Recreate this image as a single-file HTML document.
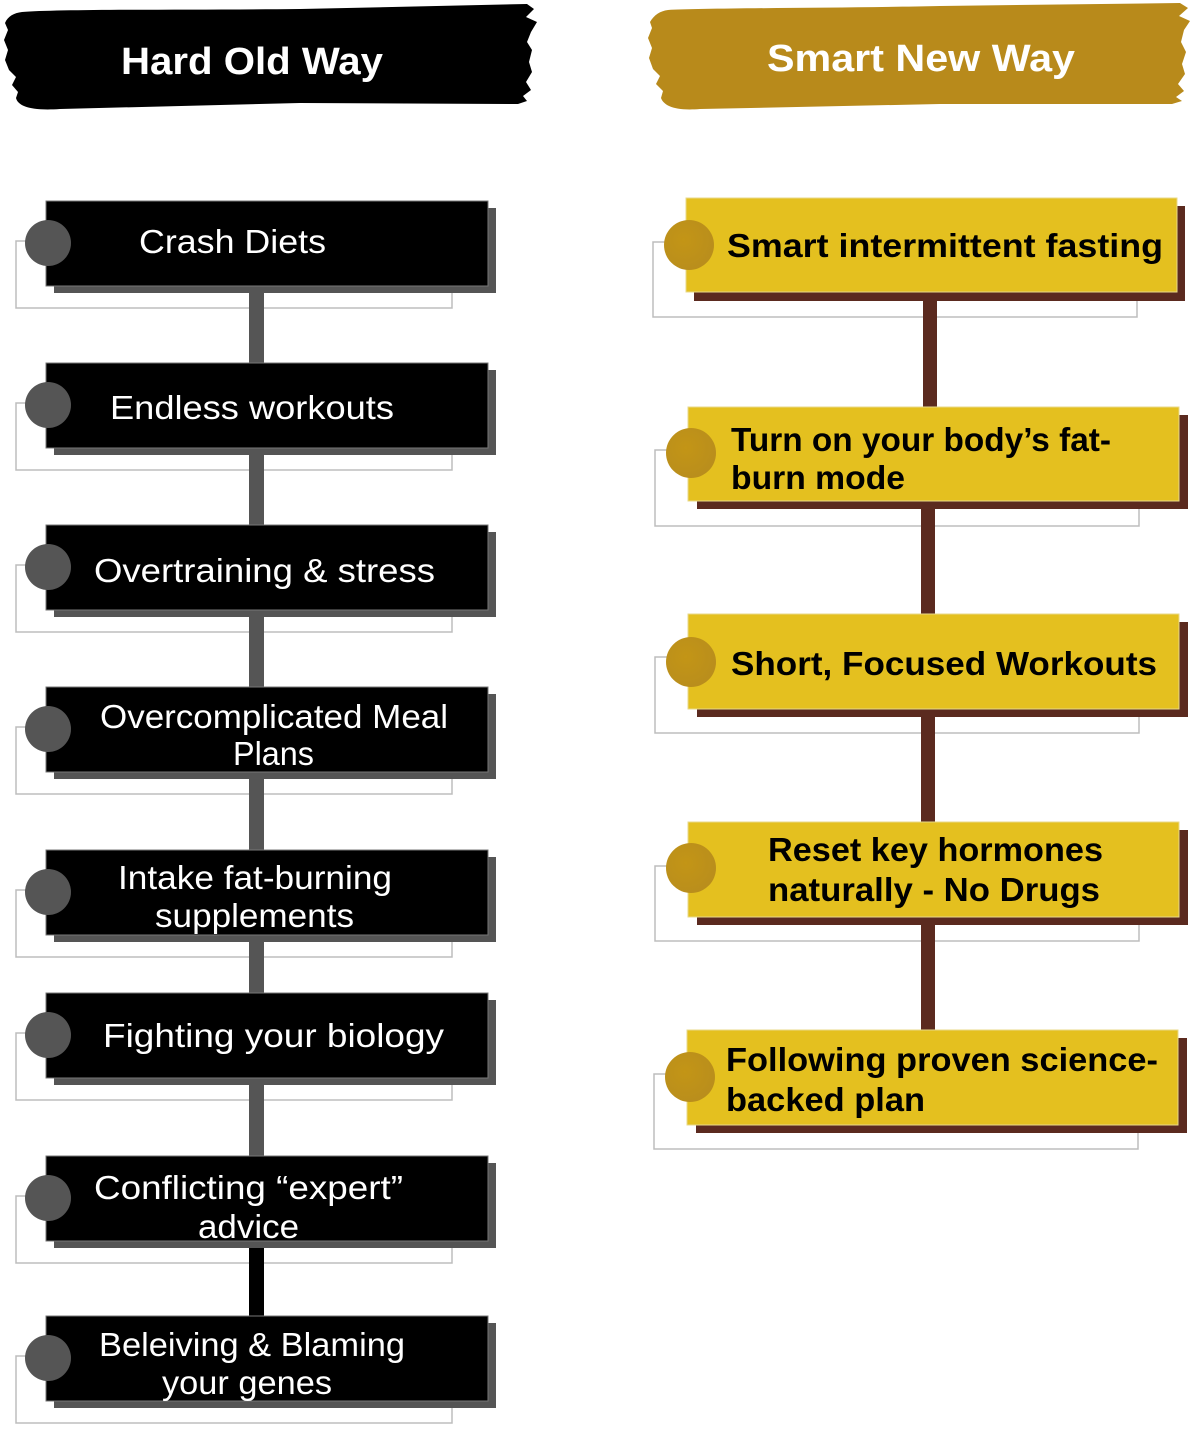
<!DOCTYPE html>
<html>
<head>
<meta charset="utf-8">
<style>
  html,body{margin:0;padding:0;background:#fff;}
  body{width:1200px;height:1440px;overflow:hidden;}
  svg{display:block;}
  .lt{font-family:"Liberation Sans",sans-serif;font-size:33px;fill:#fff;}
  .rt{font-family:"Liberation Sans",sans-serif;font-size:33px;font-weight:bold;fill:#000;}
  .hd{font-family:"Liberation Sans",sans-serif;font-size:38px;font-weight:bold;fill:#fff;}
</style>
</head>
<body>
<svg width="1200" height="1440" viewBox="0 0 1200 1440" xmlns="http://www.w3.org/2000/svg">
  <!-- Banners -->
  <path fill="#000" d="M 22 12 C 60 9, 200 10, 300 9 L 527 4 L 534 9 L 526 17 L 537 22 L 531 32 L 527 42 L 532 50 L 529 62 L 532 72 L 526 82 L 531 90 L 523 96 L 527 101 L 518 104 L 300 103 L 60 109 C 30 111, 18 106, 16 98 L 18 92 L 12 85 L 16 77 L 9 70 L 5 60 L 8 50 L 4 40 L 8 30 L 5 23 C 8 16, 14 13, 22 12 Z"/>
  <text class="hd" x="121" y="74" textLength="262" lengthAdjust="spacingAndGlyphs">Hard Old Way</text>

  <path fill="#b88a1b" d="M 668 10 C 700 8, 850 8, 940 6 L 1180 3 L 1188 8 L 1179 16 L 1190 21 L 1184 30 L 1181 42 L 1186 52 L 1182 64 L 1185 74 L 1178 84 L 1184 91 L 1176 97 L 1182 101 L 1172 104 L 940 104 L 700 109 C 675 111, 664 106, 661 98 L 663 91 L 656 84 L 660 76 L 653 69 L 649 58 L 652 48 L 648 38 L 652 28 L 650 22 C 654 15, 660 11, 668 10 Z"/>
  <text class="hd" x="767" y="71" textLength="308" lengthAdjust="spacingAndGlyphs">Smart New Way</text>

  <!-- LEFT COLUMN -->
  <g fill="none" stroke="#bdbdbd" stroke-width="1.5">
    <rect x="16" y="241" width="436" height="67"/>
    <rect x="16" y="403" width="436" height="67"/>
    <rect x="16" y="565" width="436" height="67"/>
    <rect x="16" y="727" width="436" height="67"/>
    <rect x="16" y="890" width="436" height="67"/>
    <rect x="16" y="1033" width="436" height="67"/>
    <rect x="16" y="1196" width="436" height="67"/>
    <rect x="16" y="1356" width="436" height="67"/>
  </g>
  <g fill="#555">
    <rect x="249" y="286" width="15" height="77"/>
    <rect x="249" y="448" width="15" height="77"/>
    <rect x="249" y="610" width="15" height="77"/>
    <rect x="249" y="772" width="15" height="78"/>
    <rect x="249" y="935" width="15" height="58"/>
    <rect x="249" y="1078" width="15" height="78"/>
  </g>
  <rect x="249" y="1241" width="15" height="75" fill="#000"/>
  <!-- shadows -->
  <g fill="#555">
    <rect x="54" y="208" width="442" height="85"/>
    <rect x="54" y="370" width="442" height="85"/>
    <rect x="54" y="532" width="442" height="85"/>
    <rect x="54" y="694" width="442" height="85"/>
    <rect x="54" y="857" width="442" height="85"/>
    <rect x="54" y="1000" width="442" height="85"/>
    <rect x="54" y="1163" width="442" height="85"/>
    <rect x="54" y="1323" width="442" height="85"/>
  </g>
  <g fill="#000" stroke="#777" stroke-width="1">
    <rect x="46" y="201" width="442" height="85"/>
    <rect x="46" y="363" width="442" height="85"/>
    <rect x="46" y="525" width="442" height="85"/>
    <rect x="46" y="687" width="442" height="85"/>
    <rect x="46" y="850" width="442" height="85"/>
    <rect x="46" y="993" width="442" height="85"/>
    <rect x="46" y="1156" width="442" height="85"/>
    <rect x="46" y="1316" width="442" height="85"/>
  </g>
  <g fill="#555">
    <circle cx="48" cy="243" r="23"/>
    <circle cx="48" cy="405" r="23"/>
    <circle cx="48" cy="567" r="23"/>
    <circle cx="48" cy="729" r="23"/>
    <circle cx="48" cy="892" r="23"/>
    <circle cx="48" cy="1035" r="23"/>
    <circle cx="48" cy="1198" r="23"/>
    <circle cx="48" cy="1358" r="23"/>
  </g>
  <text class="lt" x="139" y="253" textLength="187" lengthAdjust="spacingAndGlyphs">Crash Diets</text>
  <text class="lt" x="110" y="419" textLength="284" lengthAdjust="spacingAndGlyphs">Endless workouts</text>
  <text class="lt" x="94" y="582" textLength="341" lengthAdjust="spacingAndGlyphs">Overtraining &amp; stress</text>
  <text class="lt" x="100" y="728" textLength="348" lengthAdjust="spacingAndGlyphs">Overcomplicated Meal</text>
  <text class="lt" x="233" y="765" textLength="81" lengthAdjust="spacingAndGlyphs">Plans</text>
  <text class="lt" x="118" y="889" textLength="274" lengthAdjust="spacingAndGlyphs">Intake fat-burning</text>
  <text class="lt" x="155" y="927" textLength="199" lengthAdjust="spacingAndGlyphs">supplements</text>
  <text class="lt" x="103" y="1047" textLength="341" lengthAdjust="spacingAndGlyphs">Fighting your biology</text>
  <text class="lt" x="94" y="1199" textLength="309" lengthAdjust="spacingAndGlyphs">Conflicting “expert”</text>
  <text class="lt" x="198" y="1238" textLength="101" lengthAdjust="spacingAndGlyphs">advice</text>
  <text class="lt" x="99" y="1356" textLength="306" lengthAdjust="spacingAndGlyphs">Beleiving &amp; Blaming</text>
  <text class="lt" x="162" y="1394" textLength="170" lengthAdjust="spacingAndGlyphs">your genes</text>

  <!-- RIGHT COLUMN -->
  <g fill="none" stroke="#bdbdbd" stroke-width="1.5">
    <rect x="653" y="242" width="484" height="75"/>
    <rect x="655" y="450" width="484" height="76"/>
    <rect x="655" y="657" width="484" height="76"/>
    <rect x="655" y="866" width="484" height="75"/>
    <rect x="654" y="1074" width="484" height="75"/>
  </g>
  <g fill="#5b2a1f">
    <rect x="923" y="293" width="14" height="114"/>
    <rect x="921" y="501" width="14" height="113"/>
    <rect x="921" y="709" width="14" height="113"/>
    <rect x="921" y="917" width="14" height="113"/>
  </g>
  <g fill="#5b2a1f">
    <rect x="694" y="206" width="491" height="95"/>
    <rect x="697" y="415" width="491" height="94"/>
    <rect x="697" y="622" width="491" height="95"/>
    <rect x="697" y="830" width="491" height="95"/>
    <rect x="696" y="1038" width="491" height="95"/>
  </g>
  <g fill="#e4c01f" stroke="#e8d98a" stroke-width="1">
    <rect x="686" y="198" width="491" height="94"/>
    <rect x="688" y="407" width="491" height="94"/>
    <rect x="688" y="614" width="491" height="95"/>
    <rect x="688" y="822" width="491" height="95"/>
    <rect x="687" y="1030" width="491" height="95"/>
  </g>
  <defs>
    <radialGradient id="gg" cx="0.4" cy="0.4" r="0.7">
      <stop offset="0" stop-color="#c39516"/>
      <stop offset="1" stop-color="#b88d1d"/>
    </radialGradient>
  </defs>
  <g fill="url(#gg)">
    <circle cx="689" cy="245" r="25"/>
    <circle cx="691" cy="453" r="25"/>
    <circle cx="691" cy="662" r="25"/>
    <circle cx="691" cy="868" r="25"/>
    <circle cx="690" cy="1077" r="25"/>
  </g>
  <text class="rt" x="727" y="257" textLength="436" lengthAdjust="spacingAndGlyphs">Smart intermittent fasting</text>
  <text class="rt" x="731" y="451" textLength="380" lengthAdjust="spacingAndGlyphs">Turn on your body’s fat-</text>
  <text class="rt" x="731" y="489" textLength="174" lengthAdjust="spacingAndGlyphs">burn mode</text>
  <text class="rt" x="731" y="675" textLength="426" lengthAdjust="spacingAndGlyphs">Short, Focused Workouts</text>
  <text class="rt" x="768" y="861" textLength="335" lengthAdjust="spacingAndGlyphs">Reset key hormones</text>
  <text class="rt" x="768" y="901" textLength="332" lengthAdjust="spacingAndGlyphs">naturally - No Drugs</text>
  <text class="rt" x="726" y="1071" textLength="432" lengthAdjust="spacingAndGlyphs">Following proven science-</text>
  <text class="rt" x="726" y="1111" textLength="199" lengthAdjust="spacingAndGlyphs">backed plan</text>
</svg>
</body>
</html>
